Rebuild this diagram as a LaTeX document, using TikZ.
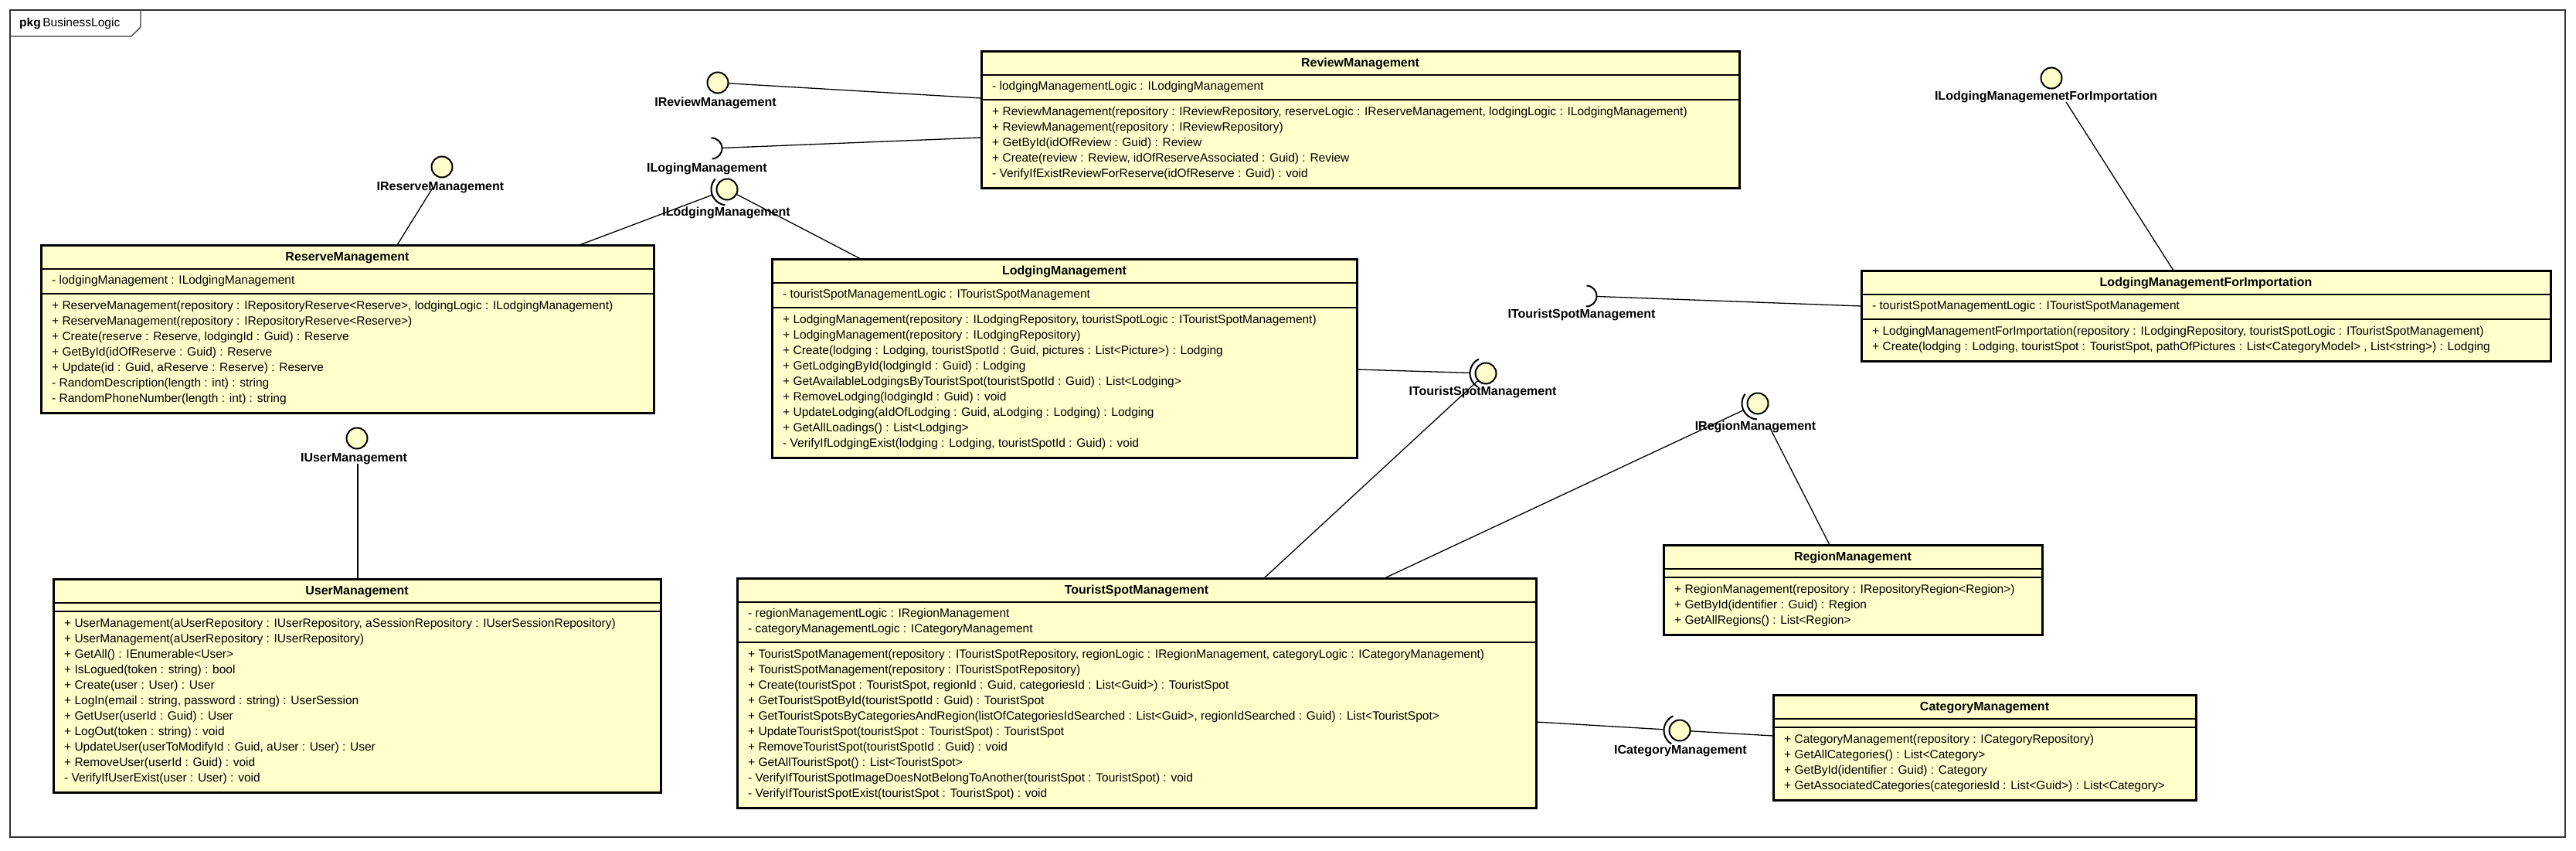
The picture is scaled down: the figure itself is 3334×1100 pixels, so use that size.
\documentclass[tikz,border=0pt]{standalone}
\usepackage{fontspec}
\setmainfont{Liberation Sans}
\usetikzlibrary{calc}
\definecolor{umlyellow}{RGB}{255,255,204}
\tikzset{
  classbox/.style={draw=black, line width=3pt, fill=umlyellow, inner sep=0pt, outer sep=0pt},
  sepline/.style={draw=black, line width=1.5pt},
  classtitle/.style={inner sep=0pt, font=\bfseries\fontsize{16}{19}\selectfont, text height=11.5pt, text depth=3.4pt},
  rowtext/.style={anchor=west, inner sep=0pt, font=\fontsize{15.5}{18}\selectfont, text height=11pt, text depth=3.2pt},
  ball/.style={circle, draw=black, line width=2pt, fill=umlyellow, minimum size=27pt, inner sep=0pt, outer sep=0pt},
  ilabel/.style={inner sep=0pt, font=\bfseries\fontsize{16}{19}\selectfont, text height=11.5pt, text depth=3.4pt},
  conn/.style={draw=black, line width=1.3pt},
  sock/.style={draw=black, line width=2pt},
  pkgframe/.style={draw=black!80, line width=1.3pt}
}
\newcommand\umlbox[7]{%
  \pgfmathsetmacro\uA{#5==0 ? 11 : 20*#5+12}%
  \pgfmathsetmacro\uH{31+\uA+20*#6+14}%
  \pgfmathsetmacro\uW{#4-#2}%
  \node[classbox, minimum width=\uW pt, minimum height=\uH pt, anchor=north west] (#1) at (#2,#3) {};
  \node[classtitle] (#1-title) at ({(#2+#4)/2},#3+16) {#7};
  \draw[sepline] (#2,#3+31) -- (#4,#3+31);
  \draw[sepline] (#2,#3+31+\uA) -- (#4,#3+31+\uA);
  \xdef\uL{#2}\xdef\uT{#3}\xdef\uAsec{\uA}%
}
\newcommand\uattr[3]{\node[rowtext] (#1-a#2) at (\uL+14, \uT+31+16+20*#2-20) {#3};}
\newcommand\umeth[3]{\node[rowtext] (#1-m#2) at (\uL+14, \uT+31+\uAsec+17+20*#2-20) {#3};}
\newcommand\sockto[4]{% centre, target, radius, half span
  \draw[sock] let \p1=($(#2)-(#1.center)$), \n1={atan2(\y1,\x1)} in
    ($(#1.center)+(\n1+#4:#3pt)$) arc[start angle=\n1+#4, end angle=\n1-#4, radius=#3pt];
  \draw[conn] let \p1=($(#2)-(#1.center)$), \n1={atan2(\y1,\x1)} in
    ($(#1.center)+(\n1:#3pt)$) -- (#2);
}
\begin{document}
\begin{tikzpicture}[x=1pt, y=-1pt]
\useasboundingbox (0,0) rectangle (3334,1100);
\fill[white] (0,0) rectangle (3334,1100);

% package frame
\draw[pkgframe] (13,13) rectangle (3320,1083);
\draw[pkgframe] (13,47) -- (170,47) -- (182,35) -- (182,13);
\node[anchor=west, inner sep=0pt, font=\fontsize{15.5}{18}\selectfont] (pkg) at (25,31) {\textbf{pkg}\,BusinessLogic};

% connection points on classes
\coordinate (rev-w1) at (1270,127);
\coordinate (rev-w2) at (1270,178);
\coordinate (res-n1) at (514,317);
\coordinate (res-n2) at (750,317);
\coordinate (lod-n1) at (1114,335);
\coordinate (lod-e1) at (1756,478);
\coordinate (usr-n1) at (463,749);
\coordinate (tsm-n1) at (1636,748);
\coordinate (tsm-n2) at (1792,748);
\coordinate (tsm-e1) at (1988,934);
\coordinate (reg-n1) at (2368,705);
\coordinate (cat-w1) at (2295,952);
\coordinate (lmi-n1) at (2813,350);
\coordinate (lmi-w1) at (2409,396);
% line ends near the interface labels
\coordinate (ires-end) at (560,243);
\coordinate (iusr-end) at (463,600);
\coordinate (ireg-end) at (2292,556);
\coordinate (ilmi-end) at (2674,132);
% pure sockets
\coordinate (ilogS) at (921,192);
\coordinate (itsS) at (2053,383);

% interface balls
\node[ball] (irevB) at (929,107) {};
\node[ball] (iresB) at (572,216) {};
\node[ball] (ilodB) at (941,245) {};
\node[ball] (iusrB) at (462,567) {};
\node[ball] (itsB) at (1923,483) {};
\node[ball] (iregB) at (2275,522) {};
\node[ball] (icatB) at (2174,945) {};
\node[ball] (ilmiB) at (2655,101) {};

% interface labels
\node[ilabel] (irevL) at (926,133) {IReviewManagement};
\node[ilabel] (ilogL) at (915,218) {ILogingManagement};
\node[ilabel] (iresL) at (570,242) {IReserveManagement};
\node[ilabel] (ilodL) at (940,275) {ILodgingManagement};
\node[ilabel] (iusrL) at (458,593) {IUserManagement};
\node[ilabel] (itsSL) at (2047,407) {ITouristSpotManagement};
\node[ilabel] (itsL) at (1919,507) {ITouristSpotManagement};
\node[ilabel] (iregL) at (2272,552) {IRegionManagement};
\node[ilabel] (icatL) at (2175,971) {ICategoryManagement};
\node[ilabel] (ilmiL) at (2648,125) {ILodgingManagemenetForImportation};

% realization lines
\draw[conn] (irevB) -- (rev-w1);
\draw[conn] (res-n1) -- (ires-end);
\draw[conn] (ilodB) -- (lod-n1);
\draw[conn] (iusr-end) -- (usr-n1);
\draw[conn] (itsB) -- (tsm-n1);
\draw[conn] (ireg-end) -- (reg-n1);
\draw[conn] (icatB) -- (cat-w1);
\draw[conn] (ilmi-end) -- (lmi-n1);

% required sockets
\sockto{ilodB}{res-n2}{20.5}{62}
\sockto{itsB}{lod-e1}{20.5}{62}
\sockto{iregB}{tsm-n2}{20.5}{62}
\sockto{icatB}{tsm-e1}{20.5}{62}
\sockto{ilogS}{rev-w2}{13.5}{90}
\sockto{itsS}{lmi-w1}{13.5}{90}

% ---------------- classes ----------------
\umlbox{rev}{1270}{66}{2251}{1}{5}{ReviewManagement}
\uattr{rev}{1}{- lodgingManagementLogic : ILodgingManagement}
\umeth{rev}{1}{+ ReviewManagement(repository : IReviewRepository, reserveLogic : IReserveManagement, lodgingLogic : ILodgingManagement)}
\umeth{rev}{2}{+ ReviewManagement(repository : IReviewRepository)}
\umeth{rev}{3}{+ GetById(idOfReview : Guid) : Review}
\umeth{rev}{4}{+ Create(review : Review, idOfReserveAssociated : Guid) : Review}
\umeth{rev}{5}{- VerifyIfExistReviewForReserve(idOfReserve : Guid) : void}

\umlbox{res}{53}{317}{846}{1}{7}{ReserveManagement}
\uattr{res}{1}{- lodgingManagement : ILodgingManagement}
\umeth{res}{1}{+ ReserveManagement(repository : IRepositoryReserve<Reserve>, lodgingLogic : ILodgingManagement)}
\umeth{res}{2}{+ ReserveManagement(repository : IRepositoryReserve<Reserve>)}
\umeth{res}{3}{+ Create(reserve : Reserve, lodgingId : Guid) : Reserve}
\umeth{res}{4}{+ GetById(idOfReserve : Guid) : Reserve}
\umeth{res}{5}{+ Update(id : Guid, aReserve : Reserve) : Reserve}
\umeth{res}{6}{- RandomDescription(length : int) : string}
\umeth{res}{7}{- RandomPhoneNumber(length : int) : string}

\umlbox{lod}{999}{335}{1756}{1}{9}{LodgingManagement}
\uattr{lod}{1}{- touristSpotManagementLogic : ITouristSpotManagement}
\umeth{lod}{1}{+ LodgingManagement(repository : ILodgingRepository, touristSpotLogic : ITouristSpotManagement)}
\umeth{lod}{2}{+ LodgingManagement(repository : ILodgingRepository)}
\umeth{lod}{3}{+ Create(lodging : Lodging, touristSpotId : Guid, pictures : List<Picture>) : Lodging}
\umeth{lod}{4}{+ GetLodgingById(lodgingId : Guid) : Lodging}
\umeth{lod}{5}{+ GetAvailableLodgingsByTouristSpot(touristSpotId : Guid) : List<Lodging>}
\umeth{lod}{6}{+ RemoveLodging(lodgingId : Guid) : void}
\umeth{lod}{7}{+ UpdateLodging(aIdOfLodging : Guid, aLodging : Lodging) : Lodging}
\umeth{lod}{8}{+ GetAllLoadings() : List<Lodging>}
\umeth{lod}{9}{- VerifyIfLodgingExist(lodging : Lodging, touristSpotId : Guid) : void}

\umlbox{lmi}{2409}{350}{3301}{1}{2}{LodgingManagementForImportation}
\uattr{lmi}{1}{- touristSpotManagementLogic : ITouristSpotManagement}
\umeth{lmi}{1}{+ LodgingManagementForImportation(repository : ILodgingRepository, touristSpotLogic : ITouristSpotManagement)}
\umeth{lmi}{2}{+ Create(lodging : Lodging, touristSpot : TouristSpot, pathOfPictures : List<CategoryModel> , List<string>) : Lodging}

\umlbox{usr}{69}{749}{855}{0}{11}{UserManagement}
\umeth{usr}{1}{+ UserManagement(aUserRepository : IUserRepository, aSessionRepository : IUserSessionRepository)}
\umeth{usr}{2}{+ UserManagement(aUserRepository : IUserRepository)}
\umeth{usr}{3}{+ GetAll() : IEnumerable<User>}
\umeth{usr}{4}{+ IsLogued(token : string) : bool}
\umeth{usr}{5}{+ Create(user : User) : User}
\umeth{usr}{6}{+ LogIn(email : string, password : string) : UserSession}
\umeth{usr}{7}{+ GetUser(userId : Guid) : User}
\umeth{usr}{8}{+ LogOut(token : string) : void}
\umeth{usr}{9}{+ UpdateUser(userToModifyId : Guid, aUser : User) : User}
\umeth{usr}{10}{+ RemoveUser(userId : Guid) : void}
\umeth{usr}{11}{- VerifyIfUserExist(user : User) : void}

\umlbox{tsm}{954}{748}{1988}{2}{10}{TouristSpotManagement}
\uattr{tsm}{1}{- regionManagementLogic : IRegionManagement}
\uattr{tsm}{2}{- categoryManagementLogic : ICategoryManagement}
\umeth{tsm}{1}{+ TouristSpotManagement(repository : ITouristSpotRepository, regionLogic : IRegionManagement, categoryLogic : ICategoryManagement)}
\umeth{tsm}{2}{+ TouristSpotManagement(repository : ITouristSpotRepository)}
\umeth{tsm}{3}{+ Create(touristSpot : TouristSpot, regionId : Guid, categoriesId : List<Guid>) : TouristSpot}
\umeth{tsm}{4}{+ GetTouristSpotById(touristSpotId : Guid) : TouristSpot}
\umeth{tsm}{5}{+ GetTouristSpotsByCategoriesAndRegion(listOfCategoriesIdSearched : List<Guid>, regionIdSearched : Guid) : List<TouristSpot>}
\umeth{tsm}{6}{+ UpdateTouristSpot(touristSpot : TouristSpot) : TouristSpot}
\umeth{tsm}{7}{+ RemoveTouristSpot(touristSpotId : Guid) : void}
\umeth{tsm}{8}{+ GetAllTouristSpot() : List<TouristSpot>}
\umeth{tsm}{9}{- VerifyIfTouristSpotImageDoesNotBelongToAnother(touristSpot : TouristSpot) : void}
\umeth{tsm}{10}{- VerifyIfTouristSpotExist(touristSpot : TouristSpot) : void}

\umlbox{reg}{2153}{705}{2643}{0}{3}{RegionManagement}
\umeth{reg}{1}{+ RegionManagement(repository : IRepositoryRegion<Region>)}
\umeth{reg}{2}{+ GetById(identifier : Guid) : Region}
\umeth{reg}{3}{+ GetAllRegions() : List<Region>}

\umlbox{cat}{2295}{899}{2842}{0}{4}{CategoryManagement}
\umeth{cat}{1}{+ CategoryManagement(repository : ICategoryRepository)}
\umeth{cat}{2}{+ GetAllCategories() : List<Category>}
\umeth{cat}{3}{+ GetById(identifier : Guid) : Category}
\umeth{cat}{4}{+ GetAssociatedCategories(categoriesId : List<Guid>) : List<Category>}
\end{tikzpicture}
\end{document}
